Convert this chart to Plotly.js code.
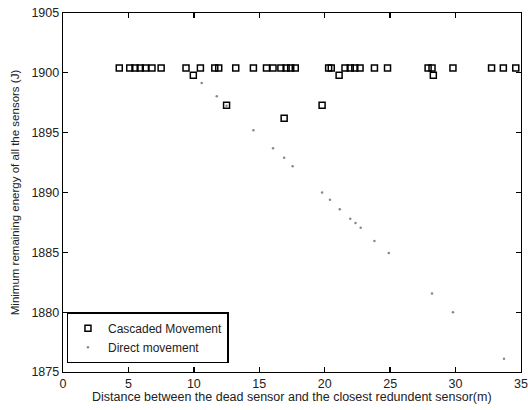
<!DOCTYPE html>
<html><head><meta charset="utf-8">
<script src="https://cdn.plot.ly/plotly-3.0.1.min.js"></script>
<style>html,body{margin:0;padding:0;background:#fff}#c{width:528px;height:410px}</style>
</head><body><div id="c"></div>
<script>
const cascX = [4.3,5.1,5.5,5.9,6.3,6.8,7.5,9.4,9.96,10.5,11.6,11.9,12.5,13.2,14.55,15.55,16.05,16.65,16.9,17.05,17.4,17.75,19.8,20.3,20.5,21.1,21.55,21.95,22.3,22.7,23.8,24.8,27.9,28.2,28.3,29.8,32.75,33.65,34.6];
const cascY = [1900.4,1900.4,1900.4,1900.4,1900.4,1900.4,1900.4,1900.4,1899.8,1900.4,1900.4,1900.4,1897.3,1900.4,1900.4,1900.4,1900.4,1900.4,1896.2,1900.4,1900.4,1900.4,1897.3,1900.4,1900.4,1899.8,1900.4,1900.4,1900.4,1900.4,1900.4,1900.4,1900.4,1900.4,1899.8,1900.4,1900.4,1900.4,1900.4];
const directX = [10.6,11.75,12.5,14.55,16.05,16.9,17.55,19.8,20.4,21.15,21.95,22.35,22.75,23.8,24.9,28.2,29.8,33.7];
const directY = [1899.15,1898.05,1897.25,1895.2,1893.7,1892.9,1892.2,1890.0,1889.4,1888.6,1887.8,1887.45,1887.05,1885.95,1884.95,1881.55,1880.0,1876.1];
const xTicks = [0,5,10,15,20,25,30,35];
const yTicks = [1875,1880,1885,1890,1895,1900,1905];
const xTitle = 'Distance between the dead sensor and the closest redundent sensor(m)';
const yTitle = 'Minimum remaining energy of all the sensors (J)';

const font = {family:'"Liberation Sans", Arial, sans-serif', color:'#222'};
const axisCommon = {showline:true, mirror:'ticks', linecolor:'#000', linewidth:1.3, ticks:'inside', ticklen:5, tickcolor:'#000', tickwidth:1.3, showgrid:false, zeroline:false, tickfont:{...font, size:12.5}};

Plotly.newPlot('c', [
  {x:cascX, y:cascY, mode:'markers', type:'scatter', name:'Cascaded Movement',
   marker:{symbol:'square-open', size:6, color:'#000', line:{width:1.5, color:'#000'}}},
  {x:directX, y:directY, mode:'markers', type:'scatter', name:'Direct movement',
   marker:{symbol:'circle', size:2.5, color:'#888'}}
], {
  width:528, height:410,
  margin:{l:63, r:7, t:13, b:38},
  paper_bgcolor:'#fff', plot_bgcolor:'#fff',
  font:font,
  showlegend:true,
  legend:{x:0.008, y:0.024, xanchor:'left', yanchor:'bottom', bordercolor:'#000', borderwidth:1.3, bgcolor:'#fff', font:{...font, size:12}, tracegroupgap:0},
  xaxis:{...axisCommon, range:[0,35], tickvals:xTicks, ticktext:xTicks.map(String)},
  yaxis:{...axisCommon, range:[1875,1905], tickvals:yTicks, ticktext:yTicks.map(String),
    title:{text:yTitle, font:{...font, size:11.5}, standoff:9}},
  annotations:[{text:xTitle, xref:'paper', yref:'paper', x:0.5, y:-0.071, xanchor:'center', yanchor:'middle', showarrow:false, font:{...font, size:12.5}}]
}, {displayModeBar:false, staticPlot:true});
</script></body></html>
